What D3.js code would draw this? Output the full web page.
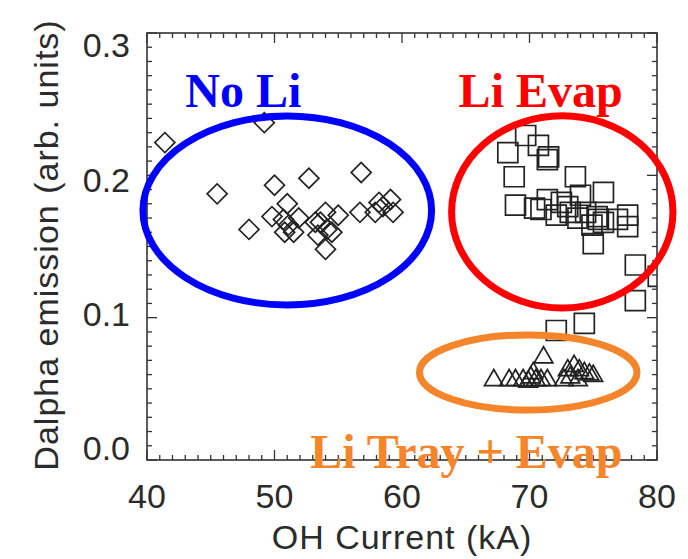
<!DOCTYPE html>
<html>
<head>
<meta charset="utf-8">
<script src="https://cdn.jsdelivr.net/npm/d3@7"></script>
<style>
  body { margin: 0; background: #fff; }
  svg { display: block; }
  .tick-label, .axis-title { font-family: 'Liberation Sans', Arial, sans-serif; fill: #2b2b2b; }
  .note { font-family: 'Liberation Serif', 'Times New Roman', serif; font-weight: bold; }
</style>
</head>
<body>
<svg width="688" height="559"></svg>
<script>
// ////////////////////////////////////////////////////////////// dalpha.js //

// data (OH current in kA, Dalpha in arb. units)
const noLiX = [41.4, 49.2, 45.5, 50.0, 52.7, 56.8, 48.0, 49.8, 51.0, 50.7,
  51.1, 51.5, 50.8, 51.9, 53.2, 54.0, 53.6, 54.1, 55.0, 53.4, 54.0, 54.5,
  56.7, 58.2, 59.1, 57.9, 59.3, 58.5];
const noLiY = [0.223, 0.237, 0.187, 0.193, 0.198, 0.202, 0.162, 0.171,
  0.180, 0.169, 0.165, 0.160, 0.160, 0.170, 0.167, 0.174, 0.167, 0.162,
  0.172, 0.158, 0.148, 0.160, 0.174, 0.181, 0.183, 0.174, 0.174, 0.178];

const evapX = [69.7, 70.7, 68.3, 71.5, 71.4, 68.8, 73.6, 68.9, 70.4, 71.4,
  72.1, 72.5, 73.2, 74.0, 74.4, 75.8, 75.4, 75.8, 76.9, 77.7, 77.7, 75.0,
  78.3, 80.1, 78.3, 72.1, 74.3, 73.8, 73.0, 70.9, 75.3, 74.9];
const evapY = [0.228, 0.221, 0.216, 0.213, 0.211, 0.199, 0.199, 0.179,
  0.177, 0.183, 0.172, 0.181, 0.174, 0.186, 0.174, 0.188, 0.169, 0.167,
  0.169, 0.172, 0.164, 0.152, 0.137, 0.129, 0.112, 0.091, 0.096, 0.170,
  0.178, 0.176, 0.171, 0.165];

const trayX = [67.2, 71.1, 68.4, 68.9, 69.5, 70.1, 70.5, 70.9, 71.4, 73.0,
  73.5, 73.9, 74.3, 74.7, 75.0, 73.2, 72.7, 73.8, 70.3, 69.9];
const trayY = [0.056, 0.072, 0.056, 0.056, 0.056, 0.058, 0.056, 0.056,
  0.056, 0.063, 0.066, 0.063, 0.061, 0.060, 0.059, 0.058, 0.056, 0.056,
  0.061, 0.055];

const xTicks = [40, 50, 60, 70, 80];
const yTicks = [0.0, 0.1, 0.2, 0.3];
const yTickLabels = ['0.0', '0.1', '0.2', '0.3'];

// annotation ellipses: centre and radii in data units
const ellipseNames = ['noLi', 'evap', 'tray'];
const ellipseCx = [51.0, 72.57, 69.9];
const ellipseCy = [0.1753, 0.1743, 0.0615];
const ellipseRx = [11.32, 8.68, 8.53];
const ellipseRy = [0.0664, 0.0675, 0.0264];
const ellipseColors = ['#0000ff', '#ff0000', '#f5852b'];

const noteTexts = ['No Li', 'Li Evap', 'Li Tray + Evap'];
const noteX = [43.0, 64.44, 52.8];
const noteY = [0.248, 0.248, -0.0056];

// 0. setup
// ----------------------------------
const svg = d3.select('svg');
const x = d3.scaleLinear().domain([40, 80]).range([147, 657]);
const y = d3.scaleLinear().domain([0, 0.3]).range([460, 33]);
// tick labels in the original sit slightly inside the ends of the axis
const yLabel = d3.scaleLinear().domain([0, 0.3]).range([448, 45]);

svg.append('clipPath')
    .attr('id', 'plot-clip')
    .append('rect')
    .attr('x', x(40))
    .attr('y', y(0.3))
    .attr('width', x(80) - x(40))
    .attr('height', y(0) - y(0.3));

// 1. axes box with minor ticks
// ----------------------------------
const axes = svg.append('g').classed('axes', true);
const minorX = d3.range(40, 80.5, 1);
const minorY = d3.range(0, 0.3005, 0.01);
const isMajorX = (v) => Math.abs(v % 10) < 1e-6;
const isMajorY = (v) => Math.abs(Math.round(v * 100) % 10) === 0;

axes.append('rect')
    .attr('x', x(40))
    .attr('y', y(0.3))
    .attr('width', x(80) - x(40))
    .attr('height', y(0) - y(0.3))
    .style('fill', 'none')
    .style('stroke', '#333')
    .style('stroke-width', 1.6);

const tickLines = [];
minorX.forEach((v) => {
  const len = isMajorX(v) ? 10 : 5;
  tickLines.push({x1: x(v), x2: x(v), y1: y(0), y2: y(0) - len});
  tickLines.push({x1: x(v), x2: x(v), y1: y(0.3), y2: y(0.3) + len});
});
minorY.forEach((v) => {
  const len = isMajorY(v) ? 10 : 5;
  tickLines.push({x1: x(40), x2: x(40) + len, y1: y(v), y2: y(v)});
  tickLines.push({x1: x(80), x2: x(80) - len, y1: y(v), y2: y(v)});
});

axes.selectAll('.tick-line')
    .data(tickLines)
    .enter()
    .append('line')
    .classed('tick-line', true)
    .attr('x1', (d) => d.x1)
    .attr('x2', (d) => d.x2)
    .attr('y1', (d) => d.y1)
    .attr('y2', (d) => d.y2)
    .style('stroke', '#333')
    .style('stroke-width', 1.3);

axes.selectAll('.x-label')
    .data(xTicks)
    .enter()
    .append('text')
    .attr('class', 'tick-label x-label')
    .attr('x', (d) => x(d))
    .attr('y', 508)
    .attr('text-anchor', 'middle')
    .style('font-size', '34px')
    .text((d) => d);

axes.selectAll('.y-label')
    .data(yTicks)
    .enter()
    .append('text')
    .attr('class', 'tick-label y-label')
    .attr('x', 130)
    .attr('y', (d) => yLabel(d))
    .attr('dy', '0.36em')
    .attr('text-anchor', 'end')
    .style('font-size', '34px')
    .text((d, i) => yTickLabels[i]);

axes.append('text')
    .classed('axis-title', true)
    .attr('x', 402)
    .attr('y', 549)
    .attr('text-anchor', 'middle')
    .style('font-size', '34px')
    .style('letter-spacing', '1px')
    .text('OH Current (kA)');

axes.append('text')
    .classed('axis-title', true)
    .attr('transform', 'translate(58,245) rotate(-90)')
    .attr('text-anchor', 'middle')
    .style('font-size', '34px')
    .style('letter-spacing', '1px')
    .text('Dalpha emission (arb. units)');

// 2. markers
// ----------------------------------
const marks = svg.append('g')
    .classed('marks', true)
    .attr('clip-path', 'url(#plot-clip)');

const addSeries = (xs, ys, symbolType, size, rotate) => {
  const path = d3.symbol().type(symbolType).size(size);
  marks.append('g')
      .selectAll('path')
      .data(xs.map((v, i) => [v, ys[i]]))
      .enter()
      .append('path')
      .attr('d', path)
      .attr('transform', (d) =>
        `translate(${x(d[0])},${y(d[1])}) rotate(${rotate})`)
      .style('fill', 'none')
      .style('stroke', '#222')
      .style('stroke-width', 1.7);
};

addSeries(noLiX, noLiY, d3.symbolSquare, 200, 45);
addSeries(evapX, evapY, d3.symbolSquare, 400, 0);
addSeries(trayX, trayY, d3.symbolTriangle, 150, 0);

// 3. annotations
// ----------------------------------
const notes = svg.append('g').classed('notes', true);

notes.selectAll('ellipse')
    .data(ellipseNames)
    .enter()
    .append('ellipse')
    .attr('cx', (d, i) => x(ellipseCx[i]))
    .attr('cy', (d, i) => y(ellipseCy[i]))
    .attr('rx', (d, i) => x(ellipseCx[i] + ellipseRx[i]) - x(ellipseCx[i]))
    .attr('ry', (d, i) => y(ellipseCy[i]) - y(ellipseCy[i] + ellipseRy[i]))
    .style('fill', 'none')
    .style('stroke', (d, i) => ellipseColors[i])
    .style('stroke-width', 7);

notes.selectAll('text')
    .data(noteTexts)
    .enter()
    .append('text')
    .classed('note', true)
    .attr('x', (d, i) => x(noteX[i]))
    .attr('y', (d, i) => y(noteY[i]))
    .style('font-size', '48px')
    .style('fill', (d, i) => ellipseColors[i])
    .text((d) => d);
</script>
</body>
</html>
